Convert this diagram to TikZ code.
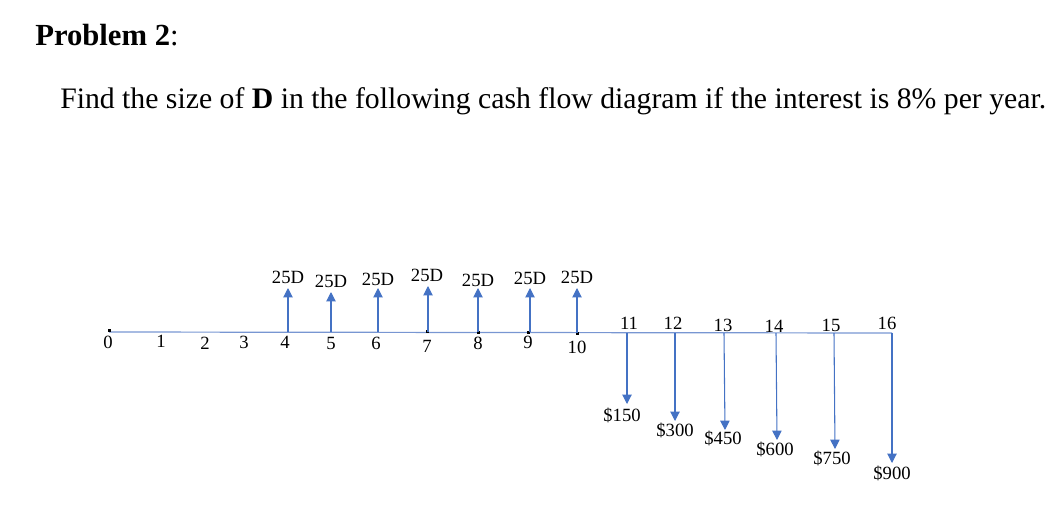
\documentclass[tikz,border=0pt]{standalone}
\usepackage{fontspec}
\setmainfont{Liberation Serif}
\usetikzlibrary{arrows.meta}
\definecolor{flowblue}{RGB}{68,114,196}
\definecolor{axisblue}{RGB}{120,150,210}

\begin{document}
\begin{tikzpicture}[x=0.75pt,y=-0.75pt,
    lbl/.style={font=\fontsize{14}{16}\selectfont,inner sep=0pt},
    flow/.style={flowblue,line width=0.8pt,-{Triangle[width=7pt,length=7pt]}},
    tick/.style={fill=black}]
    \useasboundingbox (0,0) rectangle (1054,526);

    % Heading
    \node[anchor=base west,inner sep=0pt,font=\fontsize{23}{26}\selectfont] (head) at (35,45) {\textbf{Problem 2}:};
    \node[anchor=base west,inner sep=0pt,font=\fontsize{22.3}{26}\selectfont] (task) at (60,108)
        {Find the size of \textbf{D} in the following cash flow diagram if the interest is 8\% per year.};

    % Time axis
    \coordinate (t0) at (109,332);
    \coordinate (t4) at (288,332);
    \coordinate (t5) at (331,332);
    \coordinate (t6) at (378,332);
    \coordinate (t7) at (428,332);
    \coordinate (t8) at (478,332);
    \coordinate (t9) at (530,332);
    \coordinate (t10) at (577,333);
    \coordinate (t11) at (627,333);
    \coordinate (t12) at (675,333);
    \coordinate (t13) at (724,333);
    \coordinate (t14) at (776,333);
    \coordinate (t15) at (834,333);
    \coordinate (t16) at (892,333);
    \draw[axisblue,line width=0.9pt] (t0) -- (t16);

    % Period marks
    \fill[tick] (109,330) ++(-1.5,-1.5) rectangle ++(3,3);
    \fill[tick] (427,331) ++(-1.5,-1.5) rectangle ++(3,3);
    \fill[tick] (478,332) ++(-1.5,-1.5) rectangle ++(3,3);
    \fill[tick] (528,332) ++(-1.5,-1.5) rectangle ++(3,3);
    \fill[tick] (577,333) ++(-1.5,-1.5) rectangle ++(3,3);

    % Period numbers
    \node[lbl] (n0) at (108,342) {0};
    \node[lbl] (n1) at (161,341) {1};
    \node[lbl] (n2) at (205,343) {2};
    \node[lbl] (n3) at (244,342) {3};
    \node[lbl] (n4) at (285,342) {4};
    \node[lbl] (n5) at (331,343) {5};
    \node[lbl] (n6) at (376,343) {6};
    \node[lbl] (n7) at (427,346) {7};
    \node[lbl] (n8) at (478,343) {8};
    \node[lbl] (n9) at (528,342) {9};
    \node[lbl] (n10) at (577,347) {10};
    \node[lbl] (n11) at (629,323) {11};
    \node[lbl] (n12) at (673,323) {12};
    \node[lbl] (n13) at (723,325) {13};
    \node[lbl] (n14) at (774,326) {14};
    \node[lbl] (n15) at (831,325) {15};
    \node[lbl] (n16) at (887,323) {16};

    % Receipts
    \node[lbl] (r4) at (288,277) {25D};
    \node[lbl] (r5) at (331,281) {25D};
    \node[lbl] (r6) at (378,279) {25D};
    \node[lbl] (r7) at (427,275) {25D};
    \node[lbl] (r8) at (478,280) {25D};
    \node[lbl] (r9) at (530,278) {25D};
    \node[lbl] (r10) at (577,277) {25D};
    \coordinate (u4) at (288,288);
    \coordinate (u5) at (331,292);
    \coordinate (u6) at (378,288);
    \coordinate (u7) at (428,286);
    \coordinate (u8) at (478,288);
    \coordinate (u9) at (530,288);
    \coordinate (u10) at (577,288);
    \draw[flow] (t4) -- (u4);
    \draw[flow] (t5) -- (u5);
    \draw[flow] (t6) -- (u6);
    \draw[flow] (t7) -- (u7);
    \draw[flow] (t8) -- (u8);
    \draw[flow] (t9) -- (u9);
    \draw[flow] (t10) -- (u10);

    % Payments
    \node[lbl] (p11) at (622,415) {\$150};
    \node[lbl] (p12) at (675,430) {\$300};
    \node[lbl] (p13) at (723,438) {\$450};
    \node[lbl] (p14) at (775,449) {\$600};
    \node[lbl] (p15) at (832,458) {\$750};
    \node[lbl] (p16) at (892,473) {\$900};
    \coordinate (d11) at (627,404);
    \coordinate (d12) at (675,421);
    \coordinate (d13) at (725,430);
    \coordinate (d14) at (777,440);
    \coordinate (d15) at (835,449);
    \coordinate (d16) at (892,463);
    \draw[flow] (t11) -- (d11);
    \draw[flow] (t12) -- (d12);
    \draw[flow] (t13) -- (d13);
    \draw[flow] (t14) -- (d14);
    \draw[flow] (t15) -- (d15);
    \draw[flow] (t16) -- (d16);
\end{tikzpicture}
\end{document}
